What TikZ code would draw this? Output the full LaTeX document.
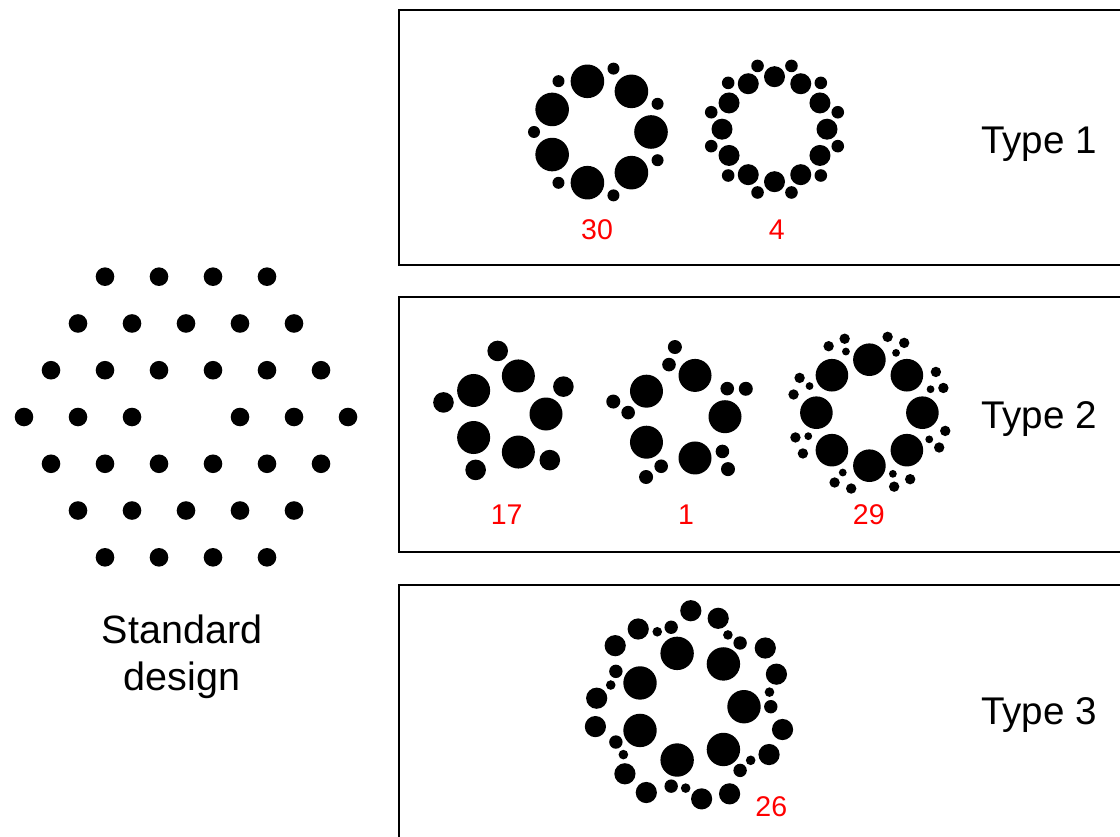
\documentclass[tikz,border=0pt]{standalone}
\usepackage{fontspec}
\setmainfont{Liberation Sans}
\begin{document}
\begin{tikzpicture}[x=1pt,y=-1pt,
    panel/.style={draw=black,line width=2pt},
    typelabel/.style={anchor=base west,inner sep=0pt,font=\fontsize{38.6}{44}\selectfont},
    count/.style={anchor=base,inner sep=0pt,text=red,font=\fontsize{28.5}{32}\selectfont}]
    \clip (0,0) rectangle (1120,837);
    \fill[white] (0,0) rectangle (1120,837);

    % Standard design (hexagonal grid, centre left out)
    \foreach \j in {-3,...,3}
      \foreach \i in {-3,...,3}{
        \pgfmathtruncatemacro{\keep}{(abs(\i+\j)<=3) && !((\i==0) && (\j==0))}
        \ifnum\keep=1 \fill (186+54*\i+27*\j,417+46.77*\j) circle (9.3); \fi
      }
    \node[align=center,inner sep=0pt,font=\fontsize{39.5}{47}\selectfont] (std) at (182,656.5) {Standard\\design};

    % Panels
    \draw[panel] (399,10) rectangle (1130,265);
    \draw[panel] (399,297) rectangle (1130,552);
    \draw[panel] (399,585) rectangle (1130,850);

    % Type 1: 30
    \begin{scope}[shift={(599,132)},yscale=-1]
      \foreach \k in {0,...,6}{
        \fill ({\k*360/7}:52) circle (16.8);
        \fill ({\k*360/7+25.7}:65) circle (6);
      }
    \end{scope}
    % Type 1: 4
    \begin{scope}[shift={(774.5,129.2)},yscale=-1]
      \foreach \k in {0,...,11}{
        \fill ({\k*30}:52.5) circle (10.5);
        \fill ({\k*30+15}:65.5) circle (6.3);
      }
    \end{scope}
    \node[count] (n30) at (597,240) {30};
    \node[count] (n4) at (776.7,240) {4};
    \node[typelabel] (type1) at (981,153.3) {Type 1};

    % Type 2: 17
    \begin{scope}[shift={(506,414)},yscale=-1]
      \foreach \k in {0,...,4}{
        \fill ({\k*72}:40) circle (16.5);
        \fill ({\k*72+25.5}:63.6) circle (10.3);
      }
    \end{scope}
    % Type 2: 1
    \begin{scope}[shift={(681.6,416.7)},yscale=-1]
      \foreach \k in {0,...,4}{
        \fill ({\k*72}:43.4) circle (16.5);
        \fill ({\k*72+31.6}:53.6) circle (6.8);
        \fill ({\k*72+23.5}:70) circle (7);
      }
    \end{scope}
    % Type 2: 29
    \begin{scope}[shift={(869.4,412.7)},yscale=-1]
      \foreach \k in {0,...,7}{
        \fill ({\k*45}:53) circle (16.3);
        \fill ({\k*45+31.5}:78) circle (5.2);
        \fill ({\k*45+18.5}:78) circle (5.2);
        \fill ({\k*45+21}:65.5) circle (3.9);
      }
    \end{scope}
    \node[count] (n17) at (506.7,524.5) {17};
    \node[count] (n1) at (686,524.5) {1};
    \node[count] (n29) at (868.8,524.5) {29};
    \node[typelabel] (type2) at (981,428) {Type 2};

    % Type 3: 26
    \begin{scope}[shift={(689.3,706.7)},yscale=-1]
      \foreach \k in {0,...,6}{
        \fill ({\k*360/7}:54.7) circle (16.7);
        \fill ({\k*360/7+89.1}:96) circle (10.6);
        \fill ({\k*360/7+71.9}:93) circle (10.6);
        \fill ({\k*360/7}:81.5) circle (6.7);
        \fill ({\k*360/7+10.3}:81.5) circle (4.8);
      }
    \end{scope}
    \node[count] (n26) at (771.3,816.7) {26};
    \node[typelabel] (type3) at (981,724) {Type 3};
\end{tikzpicture}
\end{document}
